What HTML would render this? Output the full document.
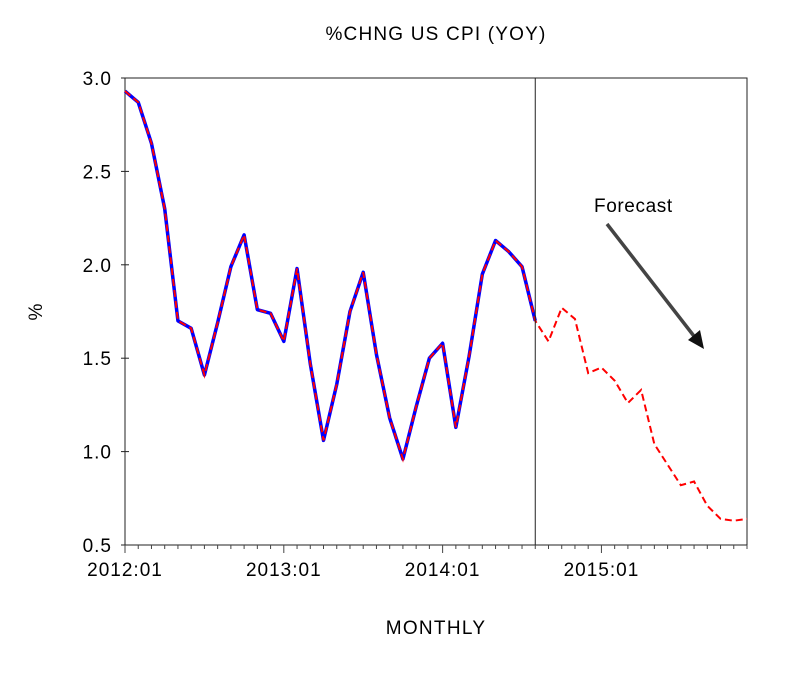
<!DOCTYPE html>
<html><head><meta charset="utf-8"><style>
body{margin:0;background:#fff;}
svg text{font-family:"Liberation Sans",Arial,sans-serif;}
</style></head><body>
<svg id="chart" width="800" height="675" xmlns="http://www.w3.org/2000/svg">
<text x="436" y="40" font-size="19" letter-spacing="1.2" text-anchor="middle">%CHNG US CPI (YOY)</text>
<text x="42" y="312" font-size="19" text-anchor="middle" transform="rotate(-90 42 312)">%</text>
<text x="436" y="634" font-size="19" letter-spacing="1.3" text-anchor="middle">MONTHLY</text>
<rect x="125" y="78" width="622" height="467" fill="none" stroke="#222" stroke-width="1"/>
<g id="axes"></g>
<g id="series"></g>
<line id="divider" y1="78" y2="545" stroke="#222" stroke-width="1"/>
<text x="594" y="212" font-size="19" letter-spacing="0.6">Forecast</text>
<g>
<line x1="607" y1="224" x2="697" y2="340" stroke="#444" stroke-width="3.5"/>
<polygon points="704,349 688,340 700,330" fill="#111"/>
</g>
</svg>
<script>
const yTicks=[0.5,1.0,1.5,2.0,2.5,3.0];
const xTickLabels=["2012:01","2013:01","2014:01","2015:01"];
const actual=[2.93,2.87,2.65,2.30,1.70,1.66,1.41,1.69,1.99,2.16,1.76,1.74,
1.59,1.98,1.47,1.06,1.36,1.75,1.96,1.52,1.18,0.96,1.24,1.50,
1.58,1.13,1.51,1.95,2.13,2.07,1.99,1.70];
const forecast=[2.93,2.87,2.65,2.30,1.70,1.66,1.41,1.69,1.99,2.16,1.76,1.74,
1.59,1.98,1.47,1.06,1.36,1.75,1.96,1.52,1.18,0.96,1.24,1.50,
1.58,1.13,1.51,1.95,2.13,2.07,1.99,1.70,
1.59,1.77,1.71,1.42,1.45,1.38,1.26,1.33,1.04,0.93,0.82,0.84,0.71,0.64,0.63,0.64];
const nMonths=48, forecastStart=31;
const X0=125,X1=747,Y0=545,Y1=78;
const xs=i=>X0+i*(X1-X0)/(nMonths-1);
const ys=v=>Y0-(v-0.5)/(3.0-0.5)*(Y0-Y1);
const NS="http://www.w3.org/2000/svg";
const axes=document.getElementById('axes'),ser=document.getElementById('series');
function mk(tag,attrs,parent){const e=document.createElementNS(NS,tag);for(const k in attrs)e.setAttribute(k,attrs[k]);parent.appendChild(e);return e;}
yTicks.forEach(v=>{
  const t=mk('line',{x1:X0-4,x2:X0+4,y1:ys(v),y2:ys(v),stroke:'#222'},axes);
  
  
  const l=mk('text',{x:X0-13,y:ys(v)+7,'font-size':19,'letter-spacing':1,'text-anchor':'end'},axes);
  l.textContent=v.toFixed(1);
  
  
});
for(let i=0;i<nMonths;i++){
  const big=i%12===0;
  const t=mk('line',{x1:xs(i),x2:xs(i),y1:Y0,y2:Y0+(big?8:4),stroke:'#444'},axes);
  
  
}
xTickLabels.forEach((s,k)=>{
  const l=mk('text',{x:xs(k*12),y:Y0+31,'font-size':19,'letter-spacing':1,'text-anchor':'middle'},axes);
  l.textContent=s;
  
  
});
const d=document.getElementById('divider');
d.setAttribute('x1',xs(forecastStart));d.setAttribute('x2',xs(forecastStart));
const pts=a=>a.map((v,i)=>xs(i)+','+ys(v)).join(' ');
const a=mk('polyline',{points:pts(actual),fill:'none',stroke:'#0000ff','stroke-width':3.5,'stroke-linejoin':'round'},ser);


const f=mk('polyline',{points:pts(forecast),fill:'none',stroke:'#ff0000','stroke-width':2,'stroke-dasharray':'7,4'},ser);


</script>
</body></html>
